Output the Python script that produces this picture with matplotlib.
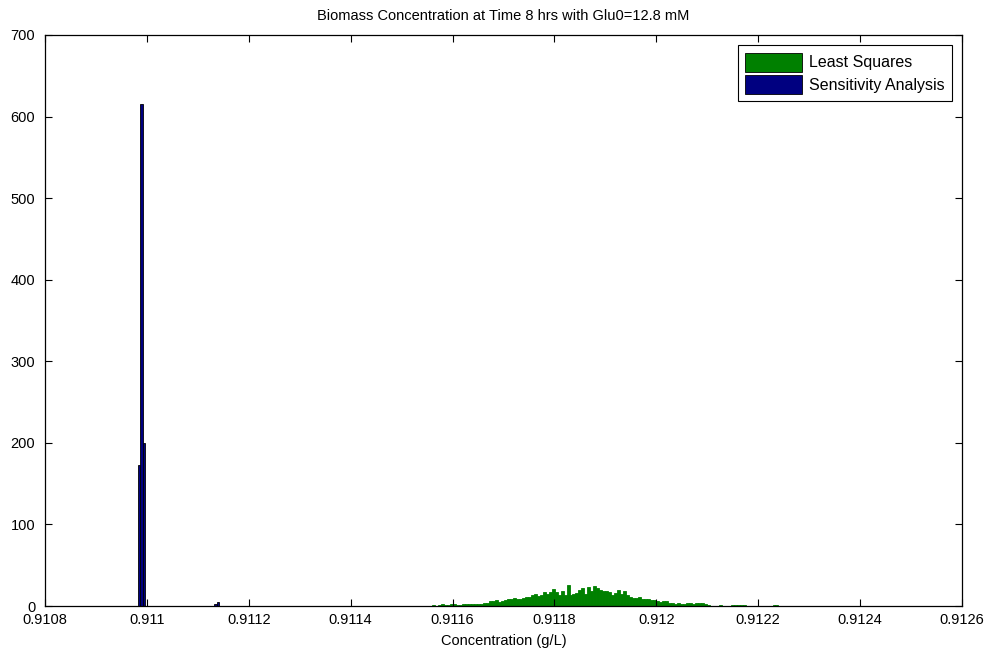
import numpy as np
import matplotlib
matplotlib.use("Agg")
import matplotlib.pyplot as plt
from matplotlib.patches import Patch

plt.rcParams['font.family'] = ['Liberation Sans', 'DejaVu Sans']

# ---- data ----
title = "Biomass Concentration at Time 8 hrs with Glu0=12.8 mM"
xlabel = "Concentration (g/L)"
series_names = ["Least Squares", "Sensitivity Analysis"]

# Least Squares histogram (116 bins)
ls_start = 0.91156
ls_width = 5.86e-6
ls_counts = [1, 0, 1, 2, 1, 1, 3, 2, 1, 1, 2, 2, 2, 3, 3, 3, 2, 4, 4, 6,
             6, 7, 5, 6, 7, 9, 9, 10, 8, 9, 10, 11, 11, 13, 15, 12, 14, 17, 15, 17,
             21, 17, 13, 19, 13, 26, 13, 15, 16, 20, 22, 15, 23, 19, 25, 22, 20, 19, 18, 17,
             14, 16, 20, 15, 19, 14, 11, 10, 10, 11, 9, 9, 9, 7, 7, 6, 5, 6, 6, 4,
             4, 3, 4, 3, 3, 4, 4, 3, 4, 4, 4, 3, 1, 0, 0, 0, 1, 0, 0, 0,
             1, 1, 1, 1, 1, 0, 0, 0, 0, 0, 0, 0, 0, 0, 1, 1]

# Sensitivity Analysis histogram
sa_start = 0.910982
sa_width = 4.7e-6
sa_counts = [173, 615, 200] + [0] * 29 + [2, 5]

x_ticks = [0.9108, 0.911, 0.9112, 0.9114, 0.9116, 0.9118, 0.912, 0.9122, 0.9124, 0.9126]
x_tick_labels = ["0.9108", "0.911", "0.9112", "0.9114", "0.9116", "0.9118",
                 "0.912", "0.9122", "0.9124", "0.9126"]
y_ticks = [0, 100, 200, 300, 400, 500, 600, 700]

green = "#008000"
navy = "#000080"

fig = plt.figure(figsize=(9.94, 6.5), dpi=100)
ax = fig.add_axes([45/994, 1 - 606/650, (962-45)/994, (606-35)/650])

ls_left = ls_start + ls_width * np.arange(len(ls_counts))
ax.bar(ls_left, ls_counts, width=ls_width, align='edge', color=green,
       edgecolor=green, linewidth=0.6)
sa_left = sa_start + sa_width * np.arange(len(sa_counts))
ax.bar(sa_left, sa_counts, width=sa_width, align='edge', color=navy,
       edgecolor='black', linewidth=0.6)

ax.set_xlim(0.9108, 0.9126)
ax.set_ylim(0, 700)
ax.set_xticks(x_ticks)
ax.set_xticklabels(x_tick_labels)
ax.set_yticks(y_ticks)
ax.tick_params(direction='in', length=5, width=0.8, top=True, right=True,
               labelsize=10.5, colors='black')
ax.tick_params(axis='y', pad=7)
ax.tick_params(axis='x', pad=5)
for s in ax.spines.values():
    s.set_linewidth(0.9)
    s.set_color('black')

ax.set_title(title, fontsize=10.5, pad=11)
ax.set_xlabel(xlabel, fontsize=10.5, labelpad=5)

handles = [Patch(facecolor=green, edgecolor='black', linewidth=0.6),
           Patch(facecolor=navy, edgecolor='black', linewidth=0.6)]
leg = ax.legend(handles, series_names, loc='upper right', fontsize=11.5,
                handlelength=3.6, handleheight=1.45, fancybox=False,
                edgecolor='black', framealpha=1, borderaxespad=0.65,
                labelspacing=0.2, handletextpad=0.4, borderpad=0.45)
leg.get_frame().set_linewidth(0.8)

fig.savefig("out.png", dpi=100)
